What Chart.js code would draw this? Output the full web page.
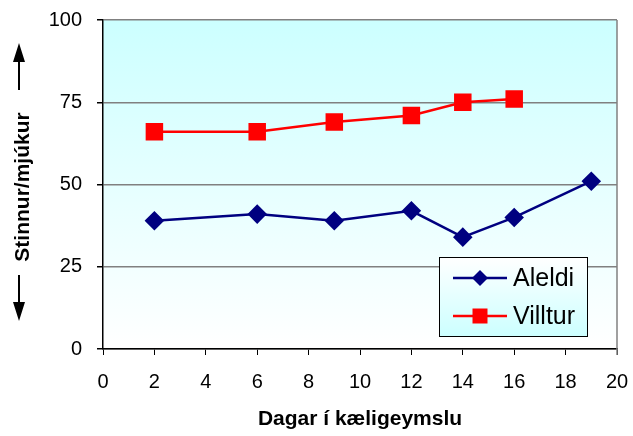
<!DOCTYPE html>
<html>
<head>
<meta charset="utf-8">
<script src="https://cdn.jsdelivr.net/npm/chart.js@4"></script>
<style>
html,body{margin:0;padding:0;background:#fff;}
#wrap{width:633px;height:436px;position:relative;}
</style>
</head>
<body>
<div id="wrap"><canvas id="c" width="633" height="436"></canvas></div>
<script>
const aleldiX = [2, 6, 9, 12, 14, 16, 19];
const aleldiY = [39, 41, 39, 42, 34, 40, 51];
const villturX = [2, 6, 9, 12, 14, 16];
const villturY = [66, 66, 69, 71, 75, 76];
const seriesNames = ['Aleldi', 'Villtur'];
const xTitle = 'Dagar í kæligeymslu';
const yTitle = 'Stinnur/mjúkur';
const FONT = '"Liberation Sans", Arial, sans-serif';

const bgPlugin = {
  id: 'bg',
  beforeDraw(chart) {
    const {ctx, chartArea: a} = chart;
    const g = ctx.createLinearGradient(0, a.top, 0, a.bottom);
    g.addColorStop(0, '#CCFFFF');
    g.addColorStop(1, '#FFFFFF');
    ctx.save();
    ctx.fillStyle = g;
    ctx.fillRect(a.left, a.top, a.right - a.left, a.bottom - a.top);
    ctx.restore();
  },
  afterDatasetsDraw(chart) {
    const {ctx, chartArea: a} = chart;
    ctx.save();
    // right border
    ctx.strokeStyle = '#808080';
    ctx.lineWidth = 1.5;
    ctx.beginPath();
    ctx.moveTo(a.right, a.top);
    ctx.lineTo(a.right, a.bottom + 6);
    ctx.stroke();
    // x title
    ctx.fillStyle = '#000';
    ctx.font = 'bold 21px ' + FONT;
    ctx.textAlign = 'center';
    ctx.textBaseline = 'middle';
    ctx.fillText(xTitle, (a.left + a.right) / 2, 419);
    // y title rotated
    ctx.save();
    ctx.translate(23, 187);
    ctx.rotate(-Math.PI / 2);
    ctx.fillText(yTitle, 0, 0);
    ctx.restore();
    // arrows
    ctx.strokeStyle = '#000';
    ctx.lineWidth = 2;
    ctx.beginPath();
    ctx.moveTo(19, 90); ctx.lineTo(19, 58);
    ctx.moveTo(19, 275); ctx.lineTo(19, 306);
    ctx.stroke();
    ctx.beginPath();
    ctx.moveTo(19, 43); ctx.lineTo(13, 62); ctx.lineTo(25, 62); ctx.closePath();
    ctx.moveTo(19, 321); ctx.lineTo(13, 302); ctx.lineTo(25, 302); ctx.closePath();
    ctx.fill();
    // legend
    const lx = 439, ly = 257, lw = 148, lh = 79;
    const lg = ctx.createLinearGradient(0, ly, 0, ly + lh);
    lg.addColorStop(0, '#FFFFFF');
    lg.addColorStop(1, '#CCFFFF');
    ctx.fillStyle = lg;
    ctx.fillRect(lx, ly, lw, lh);
    ctx.strokeStyle = '#000';
    ctx.lineWidth = 1;
    ctx.strokeRect(lx + 0.5, ly + 0.5, lw, lh);
    const rows = [278, 316];
    chart.data.datasets.forEach((ds, i) => {
      const y = rows[i];
      ctx.strokeStyle = ds.borderColor;
      ctx.lineWidth = 2.5;
      ctx.beginPath();
      ctx.moveTo(453, y); ctx.lineTo(507, y);
      ctx.stroke();
      ctx.fillStyle = ds.pointBackgroundColor;
      ctx.beginPath();
      if (ds.pointStyle === 'rectRot') {
        ctx.moveTo(480 - 8, y); ctx.lineTo(480, y - 8); ctx.lineTo(480 + 8, y); ctx.lineTo(480, y + 8);
        ctx.closePath();
      } else {
        ctx.rect(480 - 7.5, y - 7.5, 15, 15);
      }
      ctx.fill();
      ctx.fillStyle = '#000';
      ctx.font = '25px ' + FONT;
      ctx.textAlign = 'left';
      ctx.textBaseline = 'middle';
      ctx.fillText(ds.label, 513, y + 1);
    });
    ctx.restore();
  }
};

new Chart(document.getElementById('c'), {
  type: 'line',
  data: {
    datasets: [
      {
        label: seriesNames[0],
        data: aleldiX.map((x, i) => ({x, y: aleldiY[i]})),
        borderColor: '#000080',
        backgroundColor: '#000080',
        pointBackgroundColor: '#000080',
        pointBorderColor: '#000080',
        pointStyle: 'rectRot',
        pointRadius: 8,
        borderWidth: 2.5,
        tension: 0
      },
      {
        label: seriesNames[1],
        data: villturX.map((x, i) => ({x, y: villturY[i]})),
        borderColor: '#FF0000',
        backgroundColor: '#FF0000',
        pointBackgroundColor: '#FF0000',
        pointBorderColor: '#FF0000',
        pointStyle: 'rect',
        pointRadius: 10.6,
        borderWidth: 2.5,
        tension: 0
      }
    ]
  },
  options: {
    responsive: false,
    animation: false,
    layout: {padding: {top: 20, right: 16, left: 0, bottom: 0}},
    plugins: {legend: {display: false}, tooltip: {enabled: false}},
    scales: {
      x: {
        type: 'linear',
        min: 0, max: 20,
        ticks: {stepSize: 2, color: '#000', font: {family: FONT, size: 20}, padding: 15},
        grid: {drawOnChartArea: false, drawTicks: true, tickLength: 6, tickColor: '#000', color: '#000'},
        border: {color: '#000', width: 1.5},
        afterFit(s) { s.height = 87; s.paddingLeft = 0; s.paddingRight = 0; }
      },
      y: {
        min: 0, max: 100,
        ticks: {stepSize: 25, color: '#000', font: {family: FONT, size: 20}, padding: 15},
        grid: {color: '#808080', lineWidth: 1.5, tickLength: 6, tickColor: '#000'},
        border: {color: '#000', width: 1.5},
        afterFit(s) { s.width = 103; s.paddingTop = 0; s.paddingBottom = 0; }
      }
    }
  },
  plugins: [bgPlugin]
});
</script>
</body>
</html>
